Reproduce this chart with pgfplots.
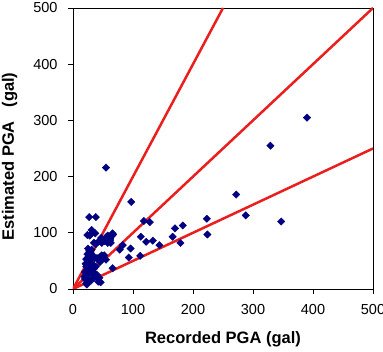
\documentclass[border=0pt]{standalone}
\usepackage{pgfplots}
\pgfplotsset{compat=1.18}
\usepackage{fontspec}
\setmainfont{Liberation Sans}

\definecolor{ptnavy}{RGB}{0,0,128}
\definecolor{bandred}{RGB}{235,30,30}

\pgfplotstableread{
x y
390 305
329 255
272 168
288 131
347 120
223 125
224 97
183 113
170 108
166 93
179 82
144 78
133 86
122 84
118 121
128 119
113 93
112 59
97 155
96 72
93 56
83 78
78 70
55 216
66 99
66 37
27 128
38 128
31 105
24 96
37 99
48 87
56 93
62 87
51 58
42 52
39 22
42 13
22 10
24 15
25 20
22 25
26 28
20 30
28 32
24 35
30 38
22 40
27 42
32 45
25 48
28 50
22 53
30 55
26 58
33 60
24 62
29 65
27 68
31 70
25 72
35 36
38 40
40 55
45 57
48 60
42 52
50 55
52 60
55 52
45 48
36 55
44 20
40 25
46 12
34 30
36 22
30 15
20 18
35 82
38 80
32 100
28 95
60 85
65 95
63 82
58 95
53 85
48 82
67 97
62 90
47 91
58 82
42 84
19 22
21 45
23 8
33 26
}\pgadata

\begin{document}
\begin{tikzpicture}
\begin{axis}[
  at={(0,0)}, anchor=south west,
  scale only axis,
  width=300pt, height=281pt,
  xmin=0, xmax=500, ymin=0, ymax=500,
  xtick={0,100,...,500}, ytick={0,100,...,500},
  tick align=outside, tick pos=left,
  major tick length=5pt,
  axis line style={line width=0.9pt},
  every tick/.style={black, line width=0.8pt},
  tick label style={font=\fontsize{14.5}{16}\selectfont},
  xticklabel style={yshift=-7pt},
  yticklabel style={xshift=-7pt},
  /pgf/number format/assume math mode=true,
  xlabel={\bfseries Recorded PGA (gal)},
  ylabel={\bfseries Estimated PGA\ \ \ (gal)},
  label style={font=\fontsize{16.5}{18}\selectfont},
  xlabel style={yshift=-10pt},
  ylabel style={yshift=9pt, xshift=-8pt},
  clip=true,
]
\addplot[only marks, mark=square*, mark size=2.6pt, mark options={rotate=45}, color=ptnavy]
  table[x=x, y=y] {\pgadata};
\addplot[bandred, line width=2.5pt] coordinates {(0,0) (250,500)};
\addplot[bandred, line width=2.5pt] coordinates {(0,0) (500,500)};
\addplot[bandred, line width=2.5pt] coordinates {(0,0) (500,250)};
\end{axis}
\pgfresetboundingbox
\useasboundingbox (-73pt,-63pt) rectangle (310pt,289pt);
\end{tikzpicture}
\end{document}
